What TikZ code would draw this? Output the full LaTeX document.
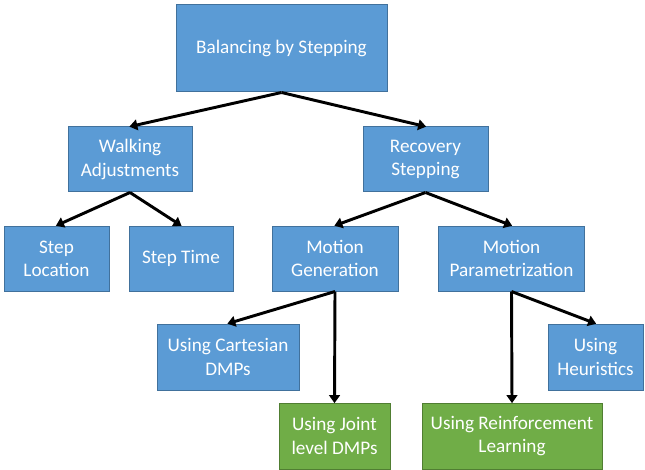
\documentclass[tikz,border=0pt]{standalone}
\usepackage{fontspec}
\setmainfont{Carlito}
\usetikzlibrary{arrows.meta}
\definecolor{bfill}{HTML}{5B9BD5}
\definecolor{bdraw}{HTML}{41719C}
\definecolor{gfill}{HTML}{70AD47}
\definecolor{gdraw}{HTML}{507E32}
\tikzset{
  box/.style={draw=bdraw, fill=bfill, line width=0.75pt, text=white, align=center,
    font=\fontsize{14.4}{17.4}\selectfont, inner sep=0pt, rectangle},
  gbox/.style={box, draw=gdraw, fill=gfill},
  arr/.style={line width=2.2pt, -{Triangle[length=6pt,width=8pt]}, shorten >=-0.5pt},
}
\begin{document}
\begin{tikzpicture}[x=0.75pt,y=-0.75pt]
\useasboundingbox (0,0) rectangle (645,470);
\node[box, minimum width=211*0.75pt, minimum height=87*0.75pt] (top) at (281.5,48.5) {Balancing by Stepping};
\node[box, minimum width=124*0.75pt, minimum height=65*0.75pt] (walk) at (130,159.5) {Walking\\Adjustments};
\node[box, minimum width=125*0.75pt, minimum height=65*0.75pt] (rec) at (425.5,159.5) {Recovery\\Stepping};
\node[box, minimum width=105*0.75pt, minimum height=65*0.75pt] (loc) at (56.5,258.5) {Step\\Location};
\node[box, minimum width=104*0.75pt, minimum height=65*0.75pt] (time) at (181,258.5) {Step Time};
\node[box, minimum width=126*0.75pt, minimum height=65*0.75pt] (mg) at (335,258.5) {Motion\\Generation};
\node[box, minimum width=146*0.75pt, minimum height=65*0.75pt] (mp) at (511.5,258.5) {Motion\\Parametrization};
\node[box, minimum width=142*0.75pt, minimum height=66*0.75pt] (cart) at (228,357) {Using Cartesian\\DMPs};
\node[box, minimum width=95*0.75pt, minimum height=66*0.75pt] (heur) at (595.5,357) {Using\\Heuristics};
\node[gbox, minimum width=111*0.75pt, minimum height=66*0.75pt] (joint) at (334.5,436) {Using Joint\\level DMPs};
\node[gbox, minimum width=180*0.75pt, minimum height=66*0.75pt] (rl) at (512,436) {Using Reinforcement\\Learning};
\draw[arr] (top.south) -- (walk.north);
\draw[arr] (top.south) -- (rec.north);
\draw[arr] (walk.south) -- (loc.north);
\draw[arr] (walk.south) -- (time.north);
\draw[arr] (rec.south) -- (mg.north);
\draw[arr] (rec.south) -- (mp.north);
\draw[arr] (mg.south) -- (cart.north);
\draw[arr] (mg.south) -- (joint.north);
\draw[arr] (mp.south) -- (rl.north);
\draw[arr] (mp.south) -- (heur.north);
\end{tikzpicture}
\end{document}
